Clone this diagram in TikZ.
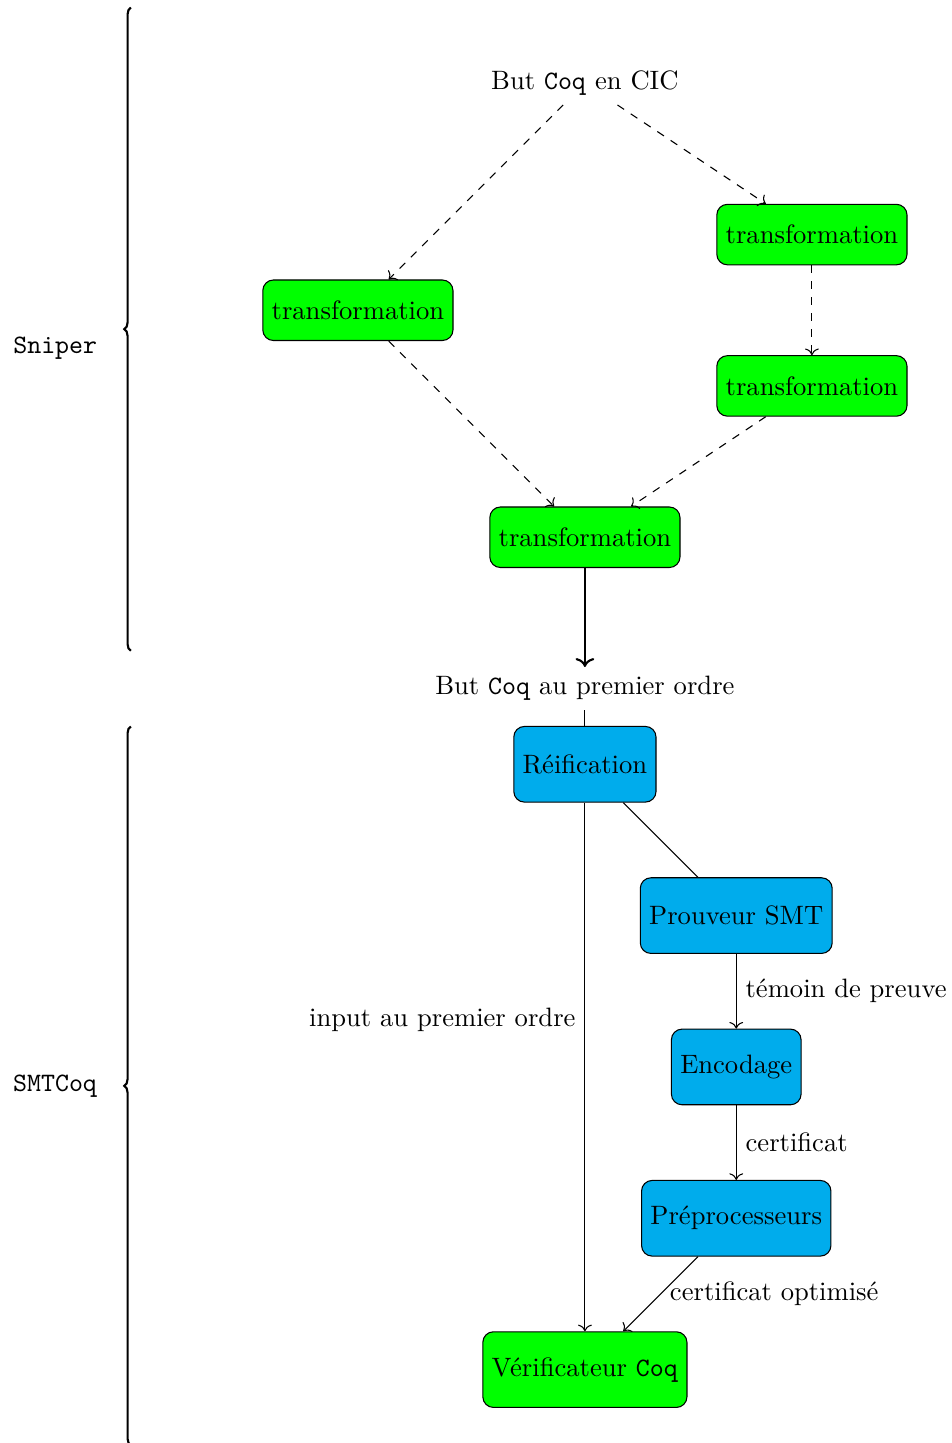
\documentclass[tikz,border=0pt]{standalone}
\usepackage{amsmath}
\usepackage{xcolor}
\usepackage{tikz}
\usetikzlibrary{arrows.meta, positioning, calc}
\usetikzlibrary{decorations.pathreplacing}

\definecolor{smtblue}{RGB}{0,172,236}

\begin{document}
\begin{tikzpicture}[
  transfo/.style={draw, rounded corners, fill=green, minimum height=0.8cm},
  smtbox/.style={draw, rounded corners, fill=smtblue, minimum height=1cm},
  checkbox/.style={draw, rounded corners, fill=green, minimum height=1cm},
  bracket/.style={thick, decorate, decoration={brace, amplitude=2.5pt}}
]

\useasboundingbox (-7.73,1.10) rectangle (4.85,-17.97);

% ------------------------
% Top part: Sniper
% ------------------------
\node (cic) at (0,0) {But \texttt{Coq} en CIC};

% transformations
\node[transfo] (tl)  at (-3,-3) {transformation};
\node[transfo] (tr1) at (3,-2)  {transformation};
\node[transfo] (tr2) at (3,-4)  {transformation};
\node[transfo] (tb)  at (0,-6)  {transformation};

\draw[dashed, ->] (cic) -- (tl);
\draw[dashed, ->] (cic) -- (tr1);
\draw[dashed, ->] (tr1) -- (tr2);
\draw[dashed, ->] (tl) -- (tb);
\draw[dashed, ->] (tr2) -- (tb);

% first-order goal
\node (fo) at (0,-8) {But \texttt{Coq} au premier ordre};
\draw[thick, ->] (tb) -- (fo);

% ------------------------
% Bottom part: SMTCoq
% ------------------------
\node[smtbox] (reif) at (0,-9)  {Réification};
\node[smtbox] (smt)  at (2,-11) {Prouveur SMT};
\node[smtbox] (enc)  at (2,-13) {Encodage};
\node[smtbox] (pre)  at (2,-15) {Préprocesseurs};
\node[checkbox] (verif) at (0,-17) {Vérificateur \texttt{Coq}};

\draw (fo) -- (reif);
\draw (reif) -- (smt);
\draw[->] (reif) -- node[left, pos=0.41] {input au premier ordre} (verif);
\draw[->] (smt) -- node[right] {témoin de preuve} (enc);
\draw[->] (enc) -- node[right] {certificat} (pre);
\draw[->] (pre) -- node[right] {certificat optimisé} (verif);

% ------------------------
% Braces on the left
% ------------------------
\coordinate (snipbot) at (-6,-7.5);
\coordinate (sniptop) at (-6,1);
\coordinate (smtbot) at (-6,-18);
\coordinate (smttop) at (-6,-8.5);

\draw[bracket] (snipbot) -- (sniptop);
\draw[bracket] (smtbot) -- (smttop);

\node (sniper) at (-7,-3.5)  {\texttt{Sniper}};
\node (smtcoq) at (-7,-13.25) {\texttt{SMTCoq}};

\end{tikzpicture}
\end{document}
